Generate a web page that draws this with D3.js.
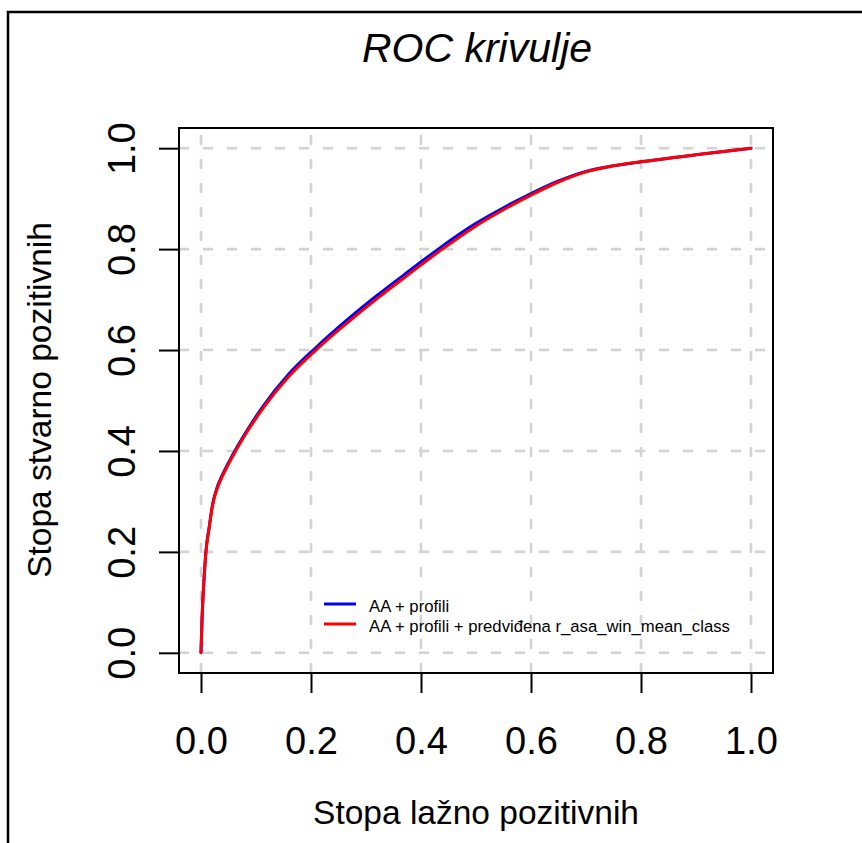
<!DOCTYPE html>
<html>
<head>
<meta charset="utf-8">
<script src="https://cdn.jsdelivr.net/npm/d3@7"></script>
<style>
  html, body { margin: 0; padding: 0; background: #ffffff; }
  svg { display: block; font-family: "Liberation Sans", Arial, Helvetica, sans-serif; }
</style>
</head>
<body>
<svg id="chart" width="862" height="843"></svg>
<script>
// False positive rate grid shared by both ROC curves
const fpr = [0, 0.002, 0.005, 0.009, 0.015, 0.021, 0.03, 0.039, 0.05, 0.064, 0.085, 0.113,
             0.16, 0.21, 0.265, 0.32, 0.38, 0.435, 0.5, 0.55, 0.6, 0.65, 0.7, 0.75, 0.8, 0.9, 1.0];
// True positive rate: AA + profili
const tprProfili = [0, 0.07, 0.137, 0.201, 0.25, 0.294, 0.33, 0.353, 0.377, 0.405, 0.443, 0.489,
                    0.553, 0.606, 0.659, 0.708, 0.758, 0.803, 0.851, 0.882, 0.91, 0.935, 0.954, 0.965, 0.973, 0.987, 1.0];
// True positive rate: AA + profili + predviđena r_asa_win_mean_class
const tprPredicted = [0, 0.07, 0.136, 0.2, 0.248, 0.292, 0.327, 0.35, 0.374, 0.402, 0.44, 0.485,
                      0.548, 0.601, 0.653, 0.702, 0.752, 0.797, 0.846, 0.878, 0.907, 0.933, 0.953, 0.965, 0.973, 0.987, 1.0];

const seriesNames = ["AA + profili", "AA + profili + predviđena r_asa_win_mean_class"];
const seriesColors = ["#0000ff", "#ff0000"];
const ticks = [0, 0.2, 0.4, 0.6, 0.8, 1.0];
const tickLabels = ["0.0", "0.2", "0.4", "0.6", "0.8", "1.0"];
const titleText = "ROC krivulje";
const xTitle = "Stopa lažno pozitivnih";
const yTitle = "Stopa stvarno pozitivnih";

const svg = d3.select("#chart");
const plot = { left: 179, right: 773, top: 128, bottom: 673 };

// Axis ranges padded by 4% on each side
const x = d3.scaleLinear().domain([-0.04, 1.04]).range([plot.left, plot.right]);
const y = d3.scaleLinear().domain([-0.04, 1.04]).range([plot.bottom, plot.top]);

// Outer frame
svg.append("rect")
  .attr("x", 8).attr("y", 12)
  .attr("width", 900).attr("height", 900)
  .attr("fill", "none").attr("stroke", "#000").attr("stroke-width", 2.5);

// Dashed grid
const grid = svg.append("g")
  .attr("stroke", "#d3d3d3").attr("stroke-width", 2.6)
  .attr("stroke-dasharray", "10,14").attr("fill", "none");
grid.selectAll("path.h").data(ticks).join("path").attr("class", "h")
  .attr("d", d => `M${plot.left},${y(d)}H${plot.right}`);
grid.selectAll("path.v").data(ticks).join("path").attr("class", "v")
  .attr("d", d => `M${x(d)},${plot.bottom}V${plot.top}`);

// ROC curves
const line = d3.line().x(d => x(d[0])).y(d => y(d[1])).curve(d3.curveMonotoneX);
const curves = [tprProfili, tprPredicted];
curves.forEach((tpr, i) => {
  svg.append("path")
    .datum(fpr.map((f, k) => [f, tpr[k]]))
    .attr("d", line)
    .attr("fill", "none")
    .attr("stroke", seriesColors[i])
    .attr("stroke-width", 3)
    .attr("stroke-linejoin", "round")
    .attr("stroke-linecap", "round");
});

// Plot box
svg.append("rect")
  .attr("x", plot.left).attr("y", plot.top)
  .attr("width", plot.right - plot.left).attr("height", plot.bottom - plot.top)
  .attr("fill", "none").attr("stroke", "#000").attr("stroke-width", 2);

// Axes
const xAxis = d3.axisBottom(x).tickValues(ticks).tickFormat((d, i) => tickLabels[i])
  .tickSize(20).tickSizeOuter(0);
const gx = svg.append("g").attr("transform", `translate(0,${plot.bottom})`).call(xAxis);
gx.select(".domain").remove();
gx.selectAll(".tick line").attr("stroke", "#000").attr("stroke-width", 2);
gx.selectAll(".tick text")
  .attr("y", 81).attr("dy", null)
  .attr("font-size", 38).attr("fill", "#000")
  .attr("font-family", "'Liberation Sans', Arial, sans-serif");

const yAxis = d3.axisLeft(y).tickValues(ticks).tickFormat((d, i) => tickLabels[i])
  .tickSize(20).tickSizeOuter(0);
const gy = svg.append("g").attr("transform", `translate(${plot.left},0)`).call(yAxis);
gy.select(".domain").remove();
gy.selectAll(".tick line").attr("stroke", "#000").attr("stroke-width", 2);
gy.selectAll(".tick text")
  .attr("x", null).attr("dy", null)
  .attr("text-anchor", "middle")
  .attr("transform", "translate(-44,0) rotate(-90)")
  .attr("font-size", 38).attr("fill", "#000")
  .attr("font-family", "'Liberation Sans', Arial, sans-serif");

// Title and axis titles
svg.append("text")
  .attr("x", 477).attr("y", 62)
  .attr("text-anchor", "middle")
  .attr("font-size", 41).attr("font-style", "italic")
  .text(titleText);

svg.append("text")
  .attr("x", 476).attr("y", 824)
  .attr("text-anchor", "middle")
  .attr("font-size", 33.5)
  .text(xTitle);

svg.append("text")
  .attr("transform", "translate(51,400) rotate(-90)")
  .attr("text-anchor", "middle")
  .attr("font-size", 33.5)
  .text(yTitle);

// Legend
const legend = svg.append("g").attr("transform", "translate(324,604)");
seriesNames.forEach((name, i) => {
  const row = legend.append("g").attr("transform", `translate(0,${i * 20})`);
  row.append("line")
    .attr("x1", 0).attr("x2", 32).attr("y1", 0).attr("y2", 0)
    .attr("stroke", seriesColors[i]).attr("stroke-width", 3);
  row.append("text")
    .attr("x", 45).attr("y", 8)
    .attr("font-size", 16.7)
    .text(name);
});
</script>
</body>
</html>
